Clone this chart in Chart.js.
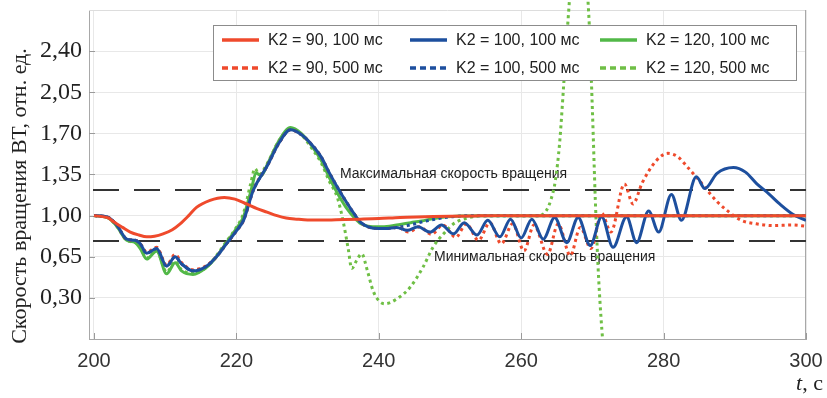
<!DOCTYPE html>
<html>
<head>
<meta charset="utf-8">
<script src="https://cdn.jsdelivr.net/npm/chart.js@4.4.1/dist/chart.umd.min.js"></script>
<style>
  html, body { margin: 0; padding: 0; background: #fff; }
</style>
</head>
<body>
<canvas id="myChart" width="827" height="398"></canvas>
<script>
// tick values
const xTicks = [200, 220, 240, 260, 280, 300];
const yTicks = [0.30, 0.65, 1.00, 1.35, 1.70, 2.05, 2.40];
const limitLines = [1.22, 0.78];

// K2 = 90, 100 ms
const k90a_t = [200, 202, 202.7, 204, 205.1, 206.3, 207.4, 208.5, 209.7, 211, 212.1, 213.3, 214.4, 216.3, 218.3, 219.8, 221.4, 222.9, 224.3, 225.7, 227, 228.5, 230, 232, 234, 237.4, 240, 243, 246.5, 250, 254, 258, 300];
const k90a_v = [1.00, 0.98, 0.95, 0.90, 0.86, 0.835, 0.82, 0.825, 0.845, 0.88, 0.93, 1.00, 1.07, 1.13, 1.155, 1.14, 1.10, 1.06, 1.03, 1.00, 0.98, 0.97, 0.963, 0.962, 0.965, 0.97, 0.975, 0.985, 0.99, 0.995, 0.998, 1.0, 1.0];

// K2 = 100, 100 ms
const k100a_t = [200, 202, 203.2, 204.6, 205.8, 206.5, 207.4, 208.8, 210.2, 211.4, 212.3, 213.9, 215.8, 217.2, 218.6, 220, 221, 222.4, 224.3, 226, 227.6, 229.1, 230.5, 231.9, 233, 234.2, 235.4, 236.6, 237.5, 238.5, 240, 241,
  242.5, 244.0, 245.5, 247.2, 248.8, 250.5, 252.0, 253.8, 255.3, 257.0, 258.5, 260.0, 261.5, 263.1, 264.7, 266.4, 268.0, 269.7, 271.3, 272.9, 274.8, 276.2, 277.9, 279.3, 281.1, 282.5, 284.6, 285.8, 287.5, 289.8, 291.5, 293.1, 294.7, 296.3, 298.2, 300];
const k100a_v = [1.00, 0.985, 0.92, 0.80, 0.79, 0.76, 0.68, 0.72, 0.57, 0.65, 0.59, 0.53, 0.57, 0.65, 0.76, 0.87, 0.96, 1.22, 1.42, 1.62, 1.73, 1.69, 1.61, 1.50, 1.37, 1.24, 1.12, 1.01, 0.94, 0.905, 0.89, 0.89,
  0.90, 0.875, 0.905, 0.86, 0.92, 0.845, 0.94, 0.835, 0.96, 0.82, 0.97, 0.81, 0.97, 0.80, 0.985, 0.77, 0.985, 0.745, 0.99, 0.73, 0.99, 0.77, 1.04, 0.86, 1.18, 0.96, 1.33, 1.23, 1.36, 1.41, 1.37, 1.27, 1.19, 1.10, 1.01, 0.96];

// K2 = 120, 100 ms
const k120a_t = [200, 202, 203.2, 204.6, 205.8, 206.5, 207.4, 208.8, 210.2, 211.4, 212.3, 213.9, 215.8, 217.2, 218.6, 220, 221, 222, 222.8, 223.5, 224.3, 226, 227.6, 229.1, 230.5, 231.9, 233, 234.2, 235.4, 236.6, 237.5, 238.5, 240, 241.5, 243, 244.5, 246, 247.7, 249.5, 251.5, 254, 300];
const k120a_v = [1.00, 0.98, 0.91, 0.79, 0.77, 0.72, 0.63, 0.70, 0.505, 0.60, 0.53, 0.50, 0.56, 0.65, 0.77, 0.89, 0.99, 1.20, 1.36, 1.34, 1.43, 1.64, 1.75, 1.70, 1.60, 1.47, 1.33, 1.19, 1.07, 0.98, 0.93, 0.91, 0.905, 0.91, 0.925, 0.94, 0.955, 0.975, 0.99, 0.997, 1.0, 1.0];

// K2 = 90, 500 ms
const k90b_t = [200, 202, 203.2, 204.6, 205.8, 206.5, 207.4, 208.8, 210.2, 211.4, 212.3, 213.9, 215.8, 217.2, 218.6, 220, 221, 222.4, 224.3, 226, 227.6, 229.1, 230.5, 231.9, 233, 234.2, 235.4, 236.6, 237.5, 238.5, 240, 241,
  242.6, 244.2, 245.7, 247.4, 249.0, 250.8, 252.3, 254.0, 255.6, 257.2, 258.8, 260.4, 261.8, 263.7, 265.2, 266.9, 268.3, 269.8, 271.3, 272.6, 274.5, 275.7, 277.0, 279.0, 280.6, 282.0, 283.4, 285.0, 286.2, 287.5, 289.0, 290.9, 293.0, 295.5, 298.0, 300];
const k90b_v = [1.00, 0.985, 0.92, 0.80, 0.79, 0.76, 0.69, 0.73, 0.58, 0.67, 0.60, 0.54, 0.575, 0.65, 0.76, 0.87, 0.96, 1.22, 1.42, 1.62, 1.73, 1.69, 1.61, 1.50, 1.37, 1.24, 1.12, 1.01, 0.94, 0.905, 0.89, 0.89,
  0.90, 0.86, 0.905, 0.84, 0.92, 0.815, 0.93, 0.79, 0.94, 0.76, 0.93, 0.70, 0.92, 0.67, 0.93, 0.66, 0.90, 0.72, 1.02, 0.86, 1.27, 1.10, 1.28, 1.47, 1.53, 1.50, 1.41, 1.30, 1.21, 1.12, 1.04, 0.96, 0.93, 0.915, 0.92, 0.91];

// K2 = 100, 500 ms
const k100b_t = [200, 202, 203.2, 204.6, 205.8, 206.5, 207.4, 208.8, 210.2, 211.4, 212.3, 213.9, 215.8, 217.2, 218.6, 220, 221, 222.4, 224.3, 226, 227.6, 229.1, 230.5, 231.9, 233, 234.2, 235.4, 236.6, 237.5, 238.5, 240, 241, 242.5, 244, 246, 248, 250, 252, 254, 300];
const k100b_v = [1.00, 0.985, 0.92, 0.80, 0.79, 0.76, 0.68, 0.72, 0.57, 0.65, 0.59, 0.53, 0.57, 0.65, 0.76, 0.87, 0.96, 1.22, 1.42, 1.62, 1.73, 1.69, 1.61, 1.50, 1.37, 1.24, 1.12, 1.01, 0.94, 0.905, 0.89, 0.89, 0.90, 0.915, 0.945, 0.97, 0.99, 0.998, 1.0, 1.0];

// K2 = 120, 500 ms
const k120b_t = [200, 202, 203.2, 204.6, 205.8, 206.5, 207.4, 208.8, 210.2, 211.4, 212.3, 213.9, 215.8, 217.2, 218.6, 220, 221, 222, 222.6, 223.2, 224.3, 226, 227.6, 229.1, 230.5, 231.9, 233, 234.2, 235, 235.7, 236.2, 236.9, 237.6, 238.4, 239.2, 240.1, 240.9, 242.5, 244.4, 246.2, 247.7, 249.1, 250.5, 252.8, 255, 262.5, 263.5, 264.2, 264.8, 265.4, 265.9, 266.5, 268.0, 269.5, 270.0, 270.4, 270.8, 271.2, 271.7];
const k120b_v = [1.00, 0.98, 0.91, 0.79, 0.77, 0.73, 0.64, 0.70, 0.52, 0.61, 0.54, 0.51, 0.56, 0.66, 0.78, 0.90, 1.02, 1.27, 1.40, 1.35, 1.44, 1.64, 1.74, 1.69, 1.58, 1.45, 1.30, 1.15, 0.95, 0.72, 0.55, 0.62, 0.675, 0.53, 0.36, 0.27, 0.25, 0.29, 0.39, 0.56, 0.74, 0.845, 0.93, 0.985, 1.0, 1.0, 1.04, 1.14, 1.30, 1.62, 2.05, 2.6, 3.6, 2.7, 1.9, 1.15, 0.56, 0.14, -0.25];

const RED = '#ef4a2c', BLUE = '#1d4f9e', GREEN = '#52b848', GREEN2 = '#6fbf45';
const DOT = [3, 3.5];

const series = [
  { label: 'K2 = 90, 100 мс',  t: k90a_t,  v: k90a_v,  color: RED,   dotted: false, order: 0 },
  { label: 'K2 = 100, 100 мс', t: k100a_t, v: k100a_v, color: BLUE,  dotted: false, order: 1 },
  { label: 'K2 = 120, 100 мс', t: k120a_t, v: k120a_v, color: GREEN, dotted: false, order: 4 },
  { label: 'K2 = 90, 500 мс',  t: k90b_t,  v: k90b_v,  color: RED,   dotted: true,  order: 2 },
  { label: 'K2 = 100, 500 мс', t: k100b_t, v: k100b_v, color: BLUE,  dotted: true,  order: 3 },
  { label: 'K2 = 120, 500 мс', t: k120b_t, v: k120b_v, color: GREEN2, dotted: true, order: 5 }
];

const datasets = series.map(s => ({
  label: s.label,
  data: s.t.map((t, i) => ({ x: t, y: s.v[i] })),
  borderColor: s.color,
  borderWidth: 3,
  borderDash: s.dotted ? DOT : [],
  fill: false,
  pointRadius: 0,
  cubicInterpolationMode: 'monotone',
  order: s.order,
  clip: s.label === 'K2 = 120, 500 мс' ? { left: 0, top: 12, right: 0, bottom: 0 } : 0
}));

const fmt = v => v.toFixed(2).replace('.', ',');

const decor = {
  id: 'decor',
  beforeDatasetsDraw(chart) {
    const { ctx, chartArea: a, scales: { x, y } } = chart;
    ctx.save();
    ctx.lineWidth = 1;
    ctx.strokeStyle = '#dddddd';
    ctx.beginPath(); ctx.moveTo(a.left, a.top + 0.5); ctx.lineTo(a.right, a.top + 0.5); ctx.stroke();
    ctx.strokeStyle = '#a8a8a8';
    ctx.beginPath(); ctx.moveTo(a.right - 0.5, a.top); ctx.lineTo(a.right - 0.5, a.bottom); ctx.stroke();
    // inward tick marks
    ctx.strokeStyle = '#9a9a9a';
    xTicks.forEach(v => {
      const px = Math.round(x.getPixelForValue(v)) + 0.5;
      ctx.beginPath(); ctx.moveTo(px, a.bottom); ctx.lineTo(px, a.bottom - 6); ctx.stroke();
    });
    yTicks.forEach(v => {
      const py = Math.round(y.getPixelForValue(v)) + 0.5;
      ctx.beginPath(); ctx.moveTo(a.left, py); ctx.lineTo(a.left + 6, py); ctx.stroke();
    });
    // speed limits
    ctx.strokeStyle = '#333333';
    ctx.lineWidth = 2;
    ctx.setLineDash([26, 15]);
    limitLines.forEach(v => {
      const py = Math.round(y.getPixelForValue(v));
      ctx.beginPath(); ctx.moveTo(a.left + 4, py); ctx.lineTo(a.right, py); ctx.stroke();
    });
    ctx.setLineDash([]);
    ctx.fillStyle = '#222';
    ctx.font = '14px "Liberation Sans", Arial, sans-serif';
    ctx.textAlign = 'left';
    ctx.textBaseline = 'alphabetic';
    ctx.fillText('Максимальная скорость вращения', x.getPixelForValue(234.55), y.getPixelForValue(1.32));
    ctx.fillText('Минимальная скорость вращения', x.getPixelForValue(247.75), y.getPixelForValue(0.61));
    ctx.restore();
  },
  afterDatasetsDraw(chart) {
    const { ctx } = chart;
    ctx.save();
    // legend box
    ctx.fillStyle = '#fff';
    ctx.fillRect(213, 25, 584, 56);
    ctx.strokeStyle = '#8c8c8c';
    ctx.lineWidth = 1;
    ctx.strokeRect(213.5, 25.5, 583, 55);
    const colX = [222, 410, 600];
    const rowY = [40, 68];
    const order = [[0, 1, 2], [3, 4, 5]];
    ctx.font = '16px "Liberation Sans", Arial, sans-serif';
    ctx.textBaseline = 'middle';
    ctx.textAlign = 'left';
    order.forEach((row, r) => row.forEach((idx, c) => {
      const s = series[idx];
      ctx.strokeStyle = s.color;
      ctx.lineWidth = 3.5;
      ctx.setLineDash(s.dotted ? [6, 4] : []);
      ctx.beginPath(); ctx.moveTo(colX[c], rowY[r]); ctx.lineTo(colX[c] + 37, rowY[r]); ctx.stroke();
      ctx.setLineDash([]);
      ctx.fillStyle = '#222';
      ctx.fillText(s.label, colX[c] + 46, rowY[r] + 1);
    }));
    ctx.restore();
  },
  afterDraw(chart) {
    const { ctx } = chart;
    ctx.save();
    ctx.fillStyle = '#222';
    // y title
    ctx.translate(20, 196);
    ctx.rotate(-Math.PI / 2);
    ctx.font = '22px "Liberation Serif", "Times New Roman", serif';
    ctx.textAlign = 'center';
    ctx.textBaseline = 'middle';
    ctx.fillText('Скорость вращения ВТ, отн. ед.', 0, 0);
    ctx.setTransform(1, 0, 0, 1, 0, 0);
    // x title
    ctx.textBaseline = 'alphabetic';
    ctx.textAlign = 'left';
    ctx.font = '22px "Liberation Serif", "Times New Roman", serif';
    const rest = ', c';
    const wRest = ctx.measureText(rest).width;
    ctx.font = 'italic 22px "Liberation Serif", "Times New Roman", serif';
    const wT = ctx.measureText('t').width;
    const x0 = 823 - wRest - wT;
    ctx.fillText('t', x0, 390);
    ctx.font = '22px "Liberation Serif", "Times New Roman", serif';
    ctx.fillText(rest, x0 + wT, 390);
    ctx.restore();
  }
};

new Chart('myChart', {
  type: 'line',
  data: { datasets },
  options: {
    responsive: false,
    animation: false,
    devicePixelRatio: 1,
    layout: { padding: { top: 10, right: 21, left: 0, bottom: 0 } },
    plugins: { legend: { display: false }, tooltip: { enabled: false } },
    scales: {
      x: {
        type: 'linear',
        min: 199.3,
        max: 300,
        afterBuildTicks: s => { s.ticks = xTicks.map(v => ({ value: v })); },
        afterFit: s => { s.height = 59; s.paddingLeft = 0; s.paddingRight = 0; },
        grid: { color: '#e8e8e8', drawTicks: false },
        border: { color: '#a8a8a8' },
        ticks: {
          padding: 10,
          color: '#333',
          font: { family: '"Liberation Sans", Arial, sans-serif', size: 20 },
          callback: v => String(v)
        }
      },
      y: {
        type: 'linear',
        min: -0.05,
        max: 2.75,
        afterBuildTicks: s => { s.ticks = yTicks.map(v => ({ value: v })); },
        afterFit: s => { s.width = 89; s.paddingTop = 0; s.paddingBottom = 0; },
        grid: { color: '#e8e8e8', drawTicks: false },
        border: { color: '#a8a8a8' },
        ticks: {
          padding: 7,
          color: '#222',
          font: { family: '"Liberation Serif", "Times New Roman", serif', size: 24 },
          callback: v => fmt(v)
        }
      }
    }
  },
  plugins: [decor]
});
</script>
</body>
</html>
